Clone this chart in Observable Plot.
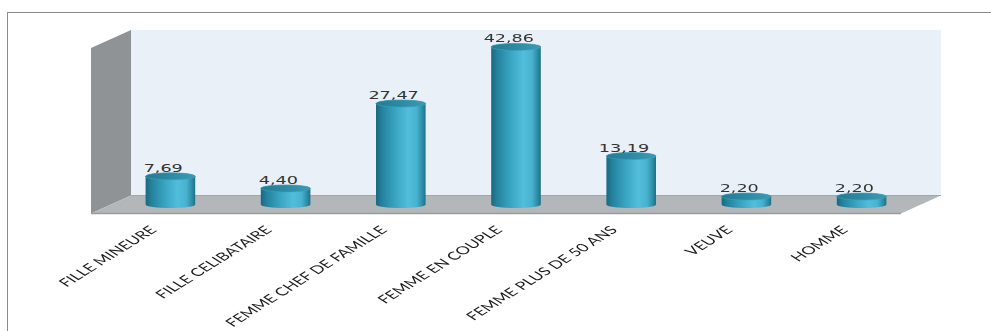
<!DOCTYPE html>
<html><head><meta charset="utf-8">
<script src="https://cdn.jsdelivr.net/npm/d3@7"></script>
<script src="https://cdn.jsdelivr.net/npm/@observablehq/plot@0.6"></script>
<style>
html,body{margin:0;padding:0;background:#fff;width:991px;height:331px;overflow:hidden}
#frame{position:absolute;left:7px;top:12px;width:1100px;height:400px;border-top:1px solid #8a8a8a;border-left:1px solid #8a8a8a}
#chart{position:absolute;left:0;top:0;transform:scaleX(1.6);transform-origin:0 0}
</style></head>
<body>
<div id="frame"></div>
<div id="chart"></div>
<script>
const categories = ["FILLE MINEURE", "FILLE CELIBATAIRE", "FEMME CHEF DE FAMILLE", "FEMME EN COUPLE", "FEMME PLUS DE 50 ANS", "VEUVE", "HOMME"];
const values = [7.69, 4.40, 27.47, 42.86, 13.19, 2.20, 2.20];
const yMax = 45;

const data = categories.map((c, i) => ({category: c, value: values[i]}));
const fmt = v => d3.format(".2f")(v).replace(".", ",");

const stretch = 1.6;
const W = 991 / stretch;
const depthX = 12.5, depthY = 9;

function defsMark() {
  const defs = d3.create("svg:defs");
  const body = defs.append("linearGradient").attr("id", "cylBody").attr("x1", 0).attr("x2", 1).attr("y1", 0).attr("y2", 0);
  [["0%", "#1a6880"], ["12%", "#24829d"], ["40%", "#3aa6c3"], ["65%", "#52bedb"], ["82%", "#48b2cf"], ["94%", "#2b8aa4"], ["100%", "#1f6f86"]]
    .forEach(([o, c]) => body.append("stop").attr("offset", o).attr("stop-color", c));
  const top = defs.append("linearGradient").attr("id", "cylTop").attr("x1", 0).attr("x2", 1).attr("y1", 0).attr("y2", 0);
  [["0%", "#247a93"], ["60%", "#2f8da7"], ["100%", "#3a9bb5"]]
    .forEach(([o, c]) => top.append("stop").attr("offset", o).attr("stop-color", c));
  return defs.node();
}

function wallsMark(index, scales, values, dims) {
  const ml = dims.marginLeft, xr = dims.width - dims.marginRight;
  const yt = dims.marginTop, yb = dims.height - dims.marginBottom;
  const g = d3.create("svg:g");
  // back wall
  g.append("rect").attr("x", ml + depthX).attr("y", yt - depthY)
    .attr("width", xr - ml).attr("height", yb - yt).attr("fill", "#e9f0f7");
  // left wall
  g.append("path").attr("d", `M${ml - depthX},${yt + depthY}L${ml + depthX},${yt - depthY}L${ml + depthX},${yb - depthY}L${ml - depthX},${yb + depthY}Z`)
    .attr("fill", "#8f9395");
  // floor
  g.append("path").attr("d", `M${ml - depthX},${yb + depthY}L${ml + depthX},${yb - depthY}L${xr + depthX},${yb - depthY}L${xr - depthX},${yb + depthY}Z`)
    .attr("fill", "#b4b7ba");
  g.append("path").attr("d", `M${ml + depthX},${yb - depthY}L${xr + depthX},${yb - depthY}`)
    .attr("stroke", "#a3a6a9").attr("stroke-width", 1).attr("fill", "none");
  g.append("path").attr("d", `M${ml - depthX},${yb + depthY}L${xr - depthX},${yb + depthY}`)
    .attr("stroke", "#9a9da0").attr("stroke-width", 1.5).attr("fill", "none");
  return g.node();
}

const chart = Plot.plot({
  width: W,
  height: 331,
  marginLeft: 111 / stretch,
  marginRight: W - 921 / stretch,
  marginTop: 39,
  marginBottom: 331 - 204.6,
  style: {background: "transparent", overflow: "visible"},
  x: {domain: categories, paddingInner: 0.568, paddingOuter: 0.284, axis: null},
  y: {domain: [0, yMax], axis: null},
  marks: [
    defsMark,
    wallsMark,
    Plot.barY(data, {x: "category", y1: 0, y2: "value", fill: "url(#cylBody)", rx: 20, ry: 3.5, insetTop: -3.5, insetBottom: -3.5}),
    Plot.barY(data, {x: "category", y1: "value", y2: "value", fill: "url(#cylTop)", stroke: "#3f9fb8", strokeWidth: 0.5, rx: 20, ry: 3.5, insetTop: -3.5, insetBottom: -3.5}),
    Plot.text(data, {x: "category", y: "value", text: d => fmt(d.value), dx: -5, dy: -5, lineAnchor: "bottom", fontSize: 11, fontFamily: "DejaVu Sans", fill: "#333"}),
    Plot.text(data, {x: "category", text: "category", frameAnchor: "bottom", rotate: -45, textAnchor: "end", lineAnchor: "middle", dx: -11, dy: 23, fontSize: 11.2, fontFamily: "Lato", fill: "#1a1a1a"})
  ]
});
document.getElementById("chart").appendChild(chart);
</script>
</body></html>
